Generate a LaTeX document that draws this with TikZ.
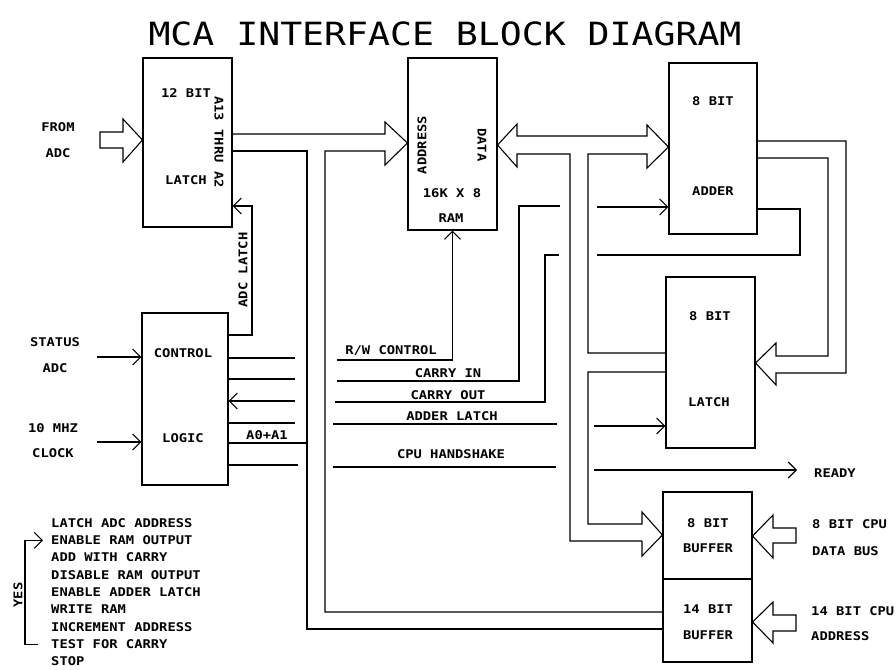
\documentclass[tikz,border=0pt]{standalone}
\usepackage{fontspec}
\newfontfamily\plotfont{DejaVu Sans Mono}[FakeStretch=1.15]
\newfontfamily\titlefont{DejaVu Sans Mono}[FakeStretch=1.14]
\usetikzlibrary{arrows.meta,calc}

\tikzset{
  blk/.style={draw, line width=1.1pt, inner sep=0pt},
  lbl/.style={font=\plotfont\bfseries\fontsize{12}{13}\selectfont, inner sep=0pt},
  wire/.style={line width=1.1pt},
  sig/.style={wire, -{Straight Barb[length=8pt,width=16pt,line width=1.1pt]}},
}

\begin{document}
\begin{tikzpicture}[x=1pt,y=-1pt]
\useasboundingbox (0,0) rectangle (896,669);
\node[font=\titlefont\fontsize{32}{34}\selectfont, inner sep=0pt] (title) at (445,34) {MCA INTERFACE BLOCK DIAGRAM};

% blocks
\node[blk, minimum width=89pt, minimum height=169pt] (adclatch) at (187.5,142.5) {};
\node[blk, minimum width=89pt, minimum height=172pt] (ram) at (452.5,144) {};
\node[blk, minimum width=88pt, minimum height=171pt] (adder) at (713,148.5) {};
\node[blk, minimum width=89pt, minimum height=171pt] (latchb) at (710.5,362.5) {};
\node[blk, minimum width=89pt, minimum height=87pt] (bufdata) at (707.5,535.5) {};
\node[blk, minimum width=89pt, minimum height=83pt] (bufaddr) at (707.5,620.5) {};
\node[blk, minimum width=86pt, minimum height=172pt] (ctrl) at (185,399) {};

% block texts
\node[lbl] (l12) at (186,93) {12 BIT};
\node[lbl] (llatch) at (186,180) {LATCH};
\node[lbl, rotate=-90] (lthru) at (219,142) {A13 THRU A2};
\node[lbl, rotate=90] (laddr) at (422,145) {ADDRESS};
\node[lbl, rotate=-90] (ldata) at (482,145) {DATA};
\node[lbl] (lsize) at (452,193) {16K X 8};
\node[lbl] (lram) at (451,218) {RAM};
\node[lbl] (la8) at (713,101) {8 BIT};
\node[lbl] (ladder) at (713,191) {ADDER};
\node[lbl] (lb8) at (710,316) {8 BIT};
\node[lbl] (lblatch) at (709,402) {LATCH};
\node[lbl] (lc8) at (708,523) {8 BIT};
\node[lbl] (lcbuf) at (708,548) {BUFFER};
\node[lbl] (ld14) at (708,609) {14 BIT};
\node[lbl] (ldbuf) at (708,635) {BUFFER};
\node[lbl] (lcontrol) at (183,353) {CONTROL};
\node[lbl] (llogic) at (183,438) {LOGIC};

% outside texts
\node[lbl] (lfrom) at (58,127) {FROM};
\node[lbl] (lfadc) at (58,153) {ADC};
\node[lbl] (lstatus) at (55,342) {STATUS};
\node[lbl] (lsadc) at (55,368) {ADC};
\node[lbl] (lmhz) at (53,428) {10 MHZ};
\node[lbl] (lclock) at (53,453) {CLOCK};
\node[lbl] (la0) at (267,435) {A0+A1};
\node[lbl, rotate=90] (ladcl) at (243,270) {ADC LATCH};
\node[lbl] (lrw) at (391,351) {R/W CONTROL};
\node[lbl] (lcin) at (448,373) {CARRY IN};
\node[lbl] (lcout) at (448,395) {CARRY OUT};
\node[lbl] (lal) at (452,416) {ADDER LATCH};
\node[lbl] (lhs) at (451,454) {CPU HANDSHAKE};
\node[lbl, anchor=west] (lready) at (814,473) {READY};
\node[lbl, anchor=west] (lcpu8) at (812,524) {8 BIT CPU};
\node[lbl, anchor=west] (lbus) at (812,551) {DATA BUS};
\node[lbl, anchor=west] (lcpu14) at (811,611) {14 BIT CPU};
\node[lbl, anchor=west] (lcpuaddr) at (811,636) {ADDRESS};

% program list
\foreach \t [count=\i from 0] in {LATCH ADC ADDRESS, ENABLE RAM OUTPUT, ADD WITH CARRY,
  DISABLE RAM OUTPUT, ENABLE ADDER LATCH, WRITE RAM, INCREMENT ADDRESS, TEST FOR CARRY, STOP}
  \node[lbl, anchor=west] (step\i) at (51,523+17.3*\i) {\t};
\node[lbl, rotate=90] (lyes) at (18,595) {YES};
\draw[sig] (step7.west) ++(-13,0) -- ++(-13,0) |- ($(step1.west)+(-8,0)$);

% fat arrows
\draw[wire] (100,132) -- (123,132) -- (123,119) -- (adclatch.west |- 0,140) -- (123,162) -- (123,148) -- (100,148) -- cycle;
\draw[wire] (bufdata.east |- 0,536) -- (773,515) -- (773,528) -- (796,528) -- (796,543) -- (773,543) -- (773,558) -- cycle;
\draw[wire] (bufaddr.east |- 0,622) -- (773,602) -- (773,615) -- (796,615) -- (796,631) -- (773,631) -- (773,643) -- cycle;

% address bus
\draw[wire] (adclatch.east |- 0,134) -- (385,134) -- (385,122) -- (ram.west |- 0,143) -- (385,165) -- (385,151)
  -- (325,151) -- (325,612) -- (bufaddr.west |- 0,612);
\draw[wire] (adclatch.east |- 0,151) -- (307,151) -- (307,629) -- (bufaddr.west |- 0,629);

% data bus
\draw[wire] (642,541) -- (570,541) -- (570,154) -- (517,154) -- (517,167) -- (ram.east |- 0,145) -- (517,124) -- (517,136)
  -- (647,136) -- (647,125) -- (adder.west |- 0,147) -- (647,168) -- (647,154) -- (588,154) -- (588,353) -- (latchb.west |- 0,353);
\draw[wire] (latchb.west |- 0,372) -- (588,372) -- (588,524) -- (642,524) -- (642,512) -- (bufdata.west |- 0,535) -- (642,556) -- (642,541);

% adder to latch
\draw[wire] (adder.east |- 0,141) -- (846,141) -- (846,373) -- (776,373) -- (776,385) -- (latchb.east |- 0,363) -- (776,343)
  -- (776,356) -- (828,356) -- (828,158) -- (adder.east |- 0,158);

% control signals
\draw[sig] (97,357) -- (ctrl.west |- 0,357);
\draw[sig] (97,442) -- (ctrl.west |- 0,442);
\draw[sig] (ctrl.east |- 0,335) -- (252,335) -- (252,206) -- (adclatch.east |- 0,206);
\draw[wire] (ctrl.east |- 0,358) -- (295,358);
\draw[wire] (ctrl.east |- 0,379) -- (295,379);
\draw[sig] (295,401) -- (ctrl.east |- 0,401);
\draw[wire] (ctrl.east |- 0,423) -- (295,423);
\draw[wire] (ctrl.east |- 0,443) -- (307,443);
\draw[wire] (ctrl.east |- 0,465) -- (298,465);

\draw[sig] (337,360) -| (ram.south);
\draw[wire] (337,381) -- (519,381) -- (519,206) -- (560,206);
\draw[sig] (597,207) -- (adder.west |- 0,207);
\draw[wire] (adder.east |- 0,209) -- (800,209) -- (800,255) -- (597,255);
\draw[wire] (559,255) -- (545,255) -- (545,402) -- (335,402);
\draw[wire] (333,424) -- (557,424);
\draw[sig] (594,426) -- (latchb.west |- 0,426);
\draw[wire] (333,467) -- (556,467);
\draw[sig] (594,470) -- (797,470);
\end{tikzpicture}
\end{document}
